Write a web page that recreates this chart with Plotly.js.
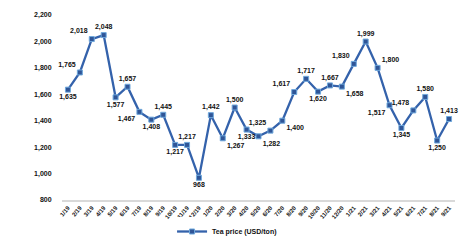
<!DOCTYPE html>
<html>
<head>
<meta charset="utf-8">
<script src="https://cdn.plot.ly/plotly-3.0.1.min.js"></script>
<style>html,body{margin:0;padding:0;background:#fff}#chart{width:475px;height:246px}</style>
</head>
<body>
<div id="chart"></div>
<script>
// Data
var months = ["1/19","2/19","3/19","4/19","5/19","6/19","7/19","8/19","9/19","10/19","11/19","12/19",
  "1/20","2/20","3/20","4/20","5/20","6/20","7/20","8/20","9/20","10/20","11/20","12/20",
  "1/21","2/21","3/21","4/21","5/21","6/21","7/21","8/21","9/21"];
var prices = [1635,1765,2018,2048,1577,1657,1467,1408,1445,1217,1217,968,
  1442,1267,1500,1333,1282,1325,1400,1617,1717,1620,1667,1658,
  1830,1999,1800,1517,1345,1478,1580,1250,1413];
var seriesName = "Tea price (USD/ton)";
var yTicks = [800,1000,1200,1400,1600,1800,2000,2200];

// label placement (style only)
var labelPos = ['bottom center','top left','top left','top center','bottom center','top center',
  'bottom left','bottom center','top center','bottom center','top center','bottom center',
  'top center','bottom right','top center','bottom center','bottom right','top left',
  'bottom right','top left','top center','bottom center','top center','bottom right',
  'top left','top center','top right','bottom left','bottom center','top left',
  'top center','bottom center','top center'];

var labels = prices.map(function(v){ return v.toLocaleString('en-US'); });

var trace = {
  x: months, y: prices, type: 'scatter', mode: 'lines+markers+text',
  name: seriesName,
  text: labels, textposition: labelPos,
  textfont: {family: 'Liberation Sans, Arial, sans-serif', size: 7, color: '#111', weight: 'bold'},
  line: {color: '#3462ab', width: 2.3},
  marker: {symbol: 'square', size: 5, color: '#2f5597', line: {color: '#6fa8dc', width: 1}},
  cliponaxis: false
};

var layout = {
  width: 475, height: 246,
  margin: {l: 62, r: 20, t: 15, b: 46, autoexpand: false},
  paper_bgcolor: '#fff', plot_bgcolor: '#fff',
  font: {family: 'Liberation Sans, Arial, sans-serif', size: 7, color: '#111'},
  showlegend: true,
  legend: {orientation: 'h', x: 0.42, xanchor: 'center', yref: 'container', y: -0.03, yanchor: 'bottom',
    font: {size: 7, weight: 'bold'}},
  xaxis: {type: 'category', range: [-0.5, 32.5], showgrid: false, zeroline: false, automargin: false,
    showline: true, linecolor: '#d9d9d9', linewidth: 2,
    tickangle: -50, tickfont: {size: 6, weight: 'bold'}, ticks: ''},
  yaxis: {range: [800, 2200], tickvals: yTicks, tickformat: ',d', showgrid: false, automargin: false,
    zeroline: false, showline: false, ticks: 'outside', ticklen: 8, tickcolor: 'rgba(0,0,0,0)',
    tickfont: {size: 7, weight: 'bold'}}
};

Plotly.newPlot('chart', [trace], layout, {displayModeBar: false, staticPlot: true});
</script>
</body>
</html>
